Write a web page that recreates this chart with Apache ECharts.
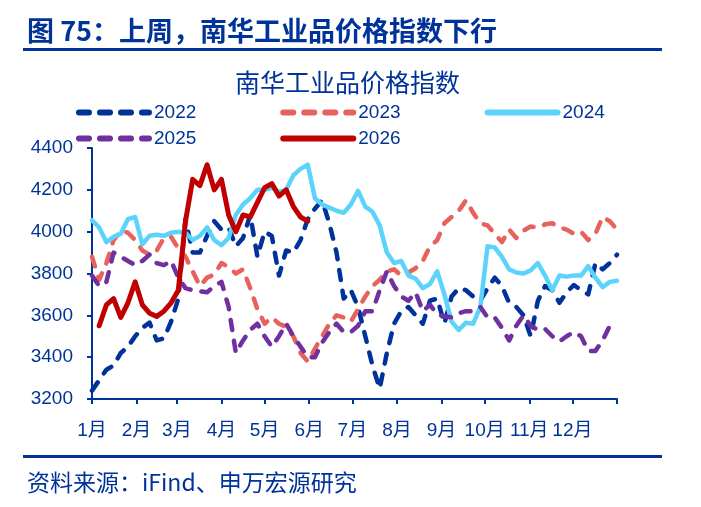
<!DOCTYPE html>
<html>
<head>
<meta charset="utf-8">
<title>南华工业品价格指数</title>
<script src="https://cdn.jsdelivr.net/npm/echarts@6/dist/echarts.min.js"></script>
<style>
html, body { margin: 0; padding: 0; background: #fff; }
#chart { width: 701px; height: 507px; }
</style>
</head>
<body>
<div id="chart"></div>
<script>
// x 轴：月份起始日（一年中的第几天）
const monthLabels = ['1月', '2月', '3月', '4月', '5月', '6月', '7月', '8月', '9月', '10月', '11月', '12月'];
const monthStarts = [0, 31, 59, 90, 120, 151, 181, 212, 243, 273, 304, 334];
const yearEnd = 365;
const yTicks = [3200, 3400, 3600, 3800, 4000, 4200, 4400];

// 每 5 天取一个点
const sampleDays = Array.from({ length: 74 }, (_, i) => i * 5);

const y2022 = [3240, 3290, 3340, 3360, 3420, 3450, 3500, 3540, 3565, 3480,
  3490, 3570, 3680, 4060, 3900, 3900, 3980, 4050, 4010, 4020,
  3930, 3970, 4080, 3880, 4000, 3980, 3790, 3910, 3900, 3960,
  4060, 4110, 4150, 4040, 3900, 3680, 3720, 3640, 3500, 3360,
  3250, 3420, 3560, 3620, 3640, 3600, 3560, 3670, 3680, 3560,
  3690, 3730, 3720, 3690, 3670, 3730, 3780, 3740, 3660, 3640,
  3600, 3500, 3670, 3740, 3720, 3660, 3710, 3745, 3720, 3700,
  3850, 3820, 3850, 3890];
const y2023 = [3880, 3770, 3850, 3960, 4005, 3995, 3960, 3910, 3890, 3910,
  3970, 3975, 3920, 3880, 3810, 3740, 3780, 3795, 3850, 3830,
  3800, 3820, 3730, 3630, 3560, 3590, 3560, 3545, 3500, 3420,
  3380, 3440, 3500, 3560, 3600, 3590, 3570, 3630, 3690, 3740,
  3770, 3810, 3820, 3790, 3805, 3825, 3860, 3930, 3960, 4040,
  4070, 4100, 4150, 4090, 4040, 4030, 3990, 3950, 4010, 3970,
  4005, 4025, 4020, 4035, 4040, 4020, 4010, 3990, 4000, 3960,
  3990, 4070, 4050, 4010];
const y2024 = [4055, 4020, 3950, 3975, 3990, 4060, 4070, 3940, 3980, 3985,
  3980, 3995, 4000, 3995, 3960, 3980, 4020, 3960, 3935, 3970,
  4080, 4130, 4160, 4200, 4200, 4210, 4190, 4200, 4270, 4300,
  4320, 4160, 4130, 4115, 4100, 4090, 4130, 4195, 4120, 4095,
  4030, 3900, 3850, 3860, 3790, 3775, 3730, 3750, 3810, 3700,
  3570, 3530, 3565, 3560, 3640, 3930, 3925, 3880, 3820, 3805,
  3800, 3815, 3850, 3790, 3720, 3790, 3785, 3790, 3790, 3835,
  3780, 3735, 3760, 3765];
const y2025 = [3790, 3740, 3760, 3900, 3880, 3860, 3840, 3860, 3890, 3850,
  3840, 3860, 3780, 3730, 3720, 3715, 3710, 3740, 3760, 3640,
  3420, 3480, 3530, 3560, 3500, 3450, 3500, 3560, 3500, 3450,
  3400, 3400, 3470, 3520, 3560, 3520, 3520, 3550, 3620, 3620,
  3720, 3810, 3740, 3690, 3670, 3710, 3620, 3650, 3605, 3595,
  3590, 3610, 3620, 3620, 3640, 3590, 3590, 3540, 3480, 3550,
  3600, 3550, 3530, 3535, 3500, 3475, 3500, 3520, 3500, 3430,
  3430, 3480, 3550, 3530];
const y2026 = [null, 3550, 3650, 3680, 3590, 3660, 3760, 3650, 3610, 3595,
  3620, 3660, 3720, 4050, 4250, 4220, 4320, 4200, 4250, 4080,
  4000, 4080, 4070, 4140, 4210, 4230, 4170, 4200, 4120, 4070,
  4050];

const blue = '#003399';
const font = 'Liberation Sans, Noto Sans CJK SC, sans-serif';
const dash = [10, 11];

function makeSeries(name, values, color, dashed, width) {
  return {
    name: name,
    type: 'line',
    symbol: 'none',
    data: values.map((v, i) => [sampleDays[i], v]),
    lineStyle: {
      color: color,
      width: width,
      type: dashed ? dash : 'solid',
      cap: 'round',
      join: 'round'
    },
    itemStyle: { color: color }
  };
}

const chart = echarts.init(document.getElementById('chart'));

// 图例只画线，不画圆点
const legendBase = {
  left: 71,
  itemWidth: 70,
  itemHeight: 20,
  itemGap: 84,
  itemStyle: { opacity: 0 },
  lineStyle: { width: 6 },
  textStyle: { color: blue, fontSize: 19, fontFamily: font }
};

chart.setOption({
  animation: false,
  backgroundColor: '#fff',
  title: [
    {
      text: '图 75：上周，南华工业品价格指数下行',
      left: 22,
      top: 12,
      textStyle: { color: blue, fontSize: 27, fontWeight: 'bold', fontFamily: 'Noto Sans CJK SC' }
    },
    {
      text: '南华工业品价格指数',
      left: 230,
      top: 65,
      textStyle: { color: blue, fontSize: 25, fontWeight: 'normal', fontFamily: 'Noto Sans CJK SC' }
    },
    {
      text: '资料来源：iFind、申万宏源研究',
      left: 22,
      top: 466,
      textStyle: { color: blue, fontSize: 23, fontWeight: 'normal', fontFamily: 'Noto Sans CJK SC' }
    }
  ],
  graphic: [
    { type: 'rect', shape: { x: 23, y: 48, width: 639, height: 3 }, style: { fill: blue } },
    { type: 'rect', shape: { x: 23, y: 455, width: 639, height: 3 }, style: { fill: blue } }
  ],
  legend: [
    Object.assign({}, legendBase, { top: 98, data: ['2022', '2023', '2024'] }),
    Object.assign({}, legendBase, { top: 124, data: ['2025', '2026'] })
  ],
  grid: { left: 92, right: 84, top: 148, bottom: 108 },
  xAxis: {
    type: 'value',
    min: 0,
    max: yearEnd,
    axisLine: { lineStyle: { color: blue, width: 2 } },
    axisTick: {
      show: true,
      customValues: monthStarts.concat([yearEnd]),
      length: 5,
      lineStyle: { color: blue, width: 2 }
    },
    axisLabel: {
      customValues: monthStarts,
      formatter: v => monthLabels[monthStarts.indexOf(v)],
      color: blue,
      fontSize: 19,
      fontFamily: font,
      margin: 22
    },
    splitLine: { show: false }
  },
  yAxis: {
    type: 'value',
    min: yTicks[0],
    max: yTicks[yTicks.length - 1],
    interval: 200,
    axisLine: { show: true, lineStyle: { color: blue, width: 2 } },
    axisTick: { show: true, length: 5, lineStyle: { color: blue, width: 2 } },
    axisLabel: { color: blue, fontSize: 19, fontFamily: font, margin: 19, formatter: v => String(v) },
    splitLine: { show: false }
  },
  series: [
    makeSeries('2022', y2022, '#003399', true, 4.5),
    makeSeries('2023', y2023, '#E8625D', true, 4.5),
    makeSeries('2024', y2024, '#5CD3FB', false, 4.5),
    makeSeries('2025', y2025, '#7030A0', true, 4.5),
    makeSeries('2026', y2026, '#C00000', false, 5)
  ]
});
</script>
</body>
</html>
